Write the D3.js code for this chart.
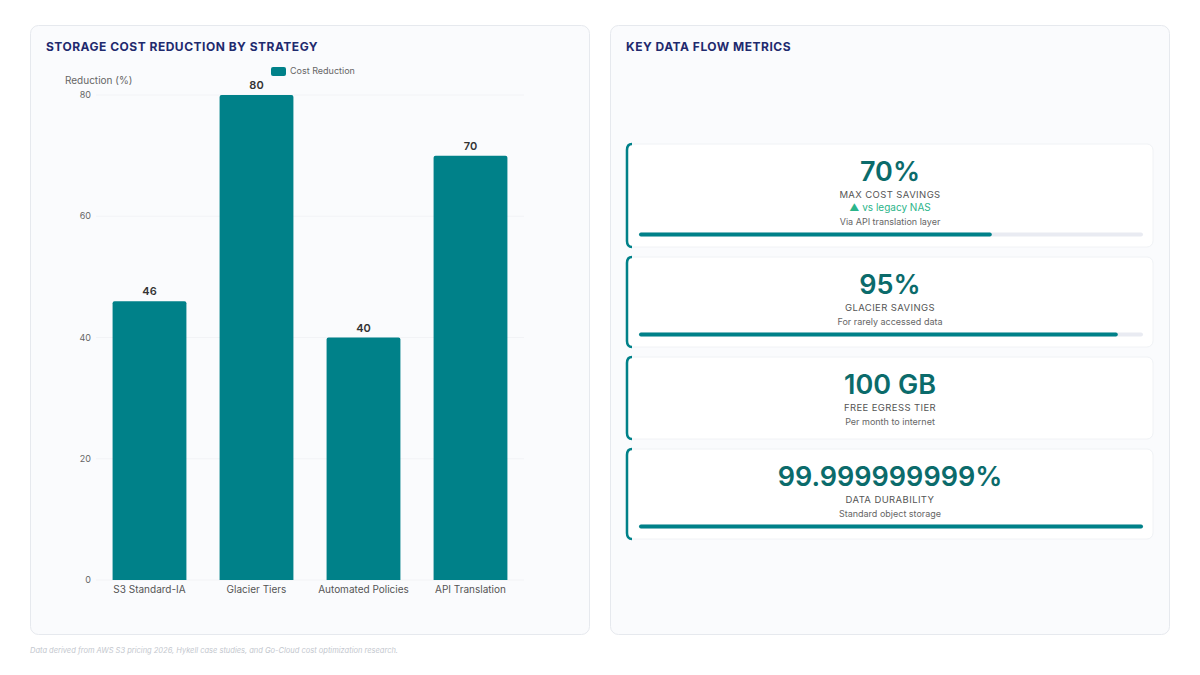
<!DOCTYPE html>
<html><head><meta charset="utf-8">
<script src="https://cdn.jsdelivr.net/npm/d3@7"></script>
<style>
body{margin:0;background:#fff;font-family:Inter,"Noto Sans",sans-serif;}
</style></head><body>
<svg id="c" width="1200" height="675"></svg>
<script>
const categories=["S3 Standard-IA","Glacier Tiers","Automated Policies","API Translation"];
const values=[46,80,40,70];
const yTicks=[0,20,40,60,80];
const metricValues=["70%","95%","100 GB","99.999999999%"];
const metricLabels=["MAX COST SAVINGS","GLACIER SAVINGS","FREE EGRESS TIER","DATA DURABILITY"];
const metricTrends=["▲ vs legacy NAS",null,null,null];
const metricSubs=["Via API translation layer","For rarely accessed data","Per month to internet","Standard object storage"];
const metricProgress=[70,95,null,100];

const svg=d3.select("#c");
const teal="#008189", navy="#1f2a6e";
[[30,590],[610,1170]].forEach(([a,b])=>{
 svg.append("rect").attr("x",a+0.5).attr("y",25.5).attr("width",b-a-1).attr("height",609).attr("rx",8)
  .attr("fill","#fafbfd").attr("stroke","#e6e9ee");
});
svg.append("text").attr("x",46).attr("y",51).text("STORAGE COST REDUCTION BY STRATEGY")
 .attr("font-size",12).attr("font-weight",700).attr("fill",navy).attr("letter-spacing",0.5);
svg.append("text").attr("x",626).attr("y",51).text("KEY DATA FLOW METRICS")
 .attr("font-size",12).attr("font-weight",700).attr("fill",navy).attr("letter-spacing",0.5);

const x=d3.scaleBand().domain(categories).range([96,524]).paddingInner(0.31).paddingOuter(0.155);
const y=d3.scaleLinear().domain([0,80]).range([580,95]);
const g=svg.append("g");
yTicks.forEach(t=>{
 g.append("line").attr("x1",96).attr("x2",524).attr("y1",y(t)).attr("y2",y(t)).attr("stroke","#f2f3f6");
 g.append("text").attr("x",91).attr("y",y(t)+3).attr("text-anchor","end").attr("font-size",9).attr("fill","#666").text(t);
});
g.selectAll(".bar").data(values).join("path").attr("fill",teal)
 .attr("d",(d,i)=>{const x0=x(categories[i]),w=x.bandwidth(),y0=y(d),h=y(0)-y(d),r=2;
  return `M${x0},${y0+h}V${y0+r}Q${x0},${y0} ${x0+r},${y0}H${x0+w-r}Q${x0+w},${y0} ${x0+w},${y0+r}V${y0+h}Z`;});
g.selectAll(".vl").data(values).join("text").attr("x",(d,i)=>x(categories[i])+x.bandwidth()/2)
 .attr("y",d=>y(d)-6).attr("text-anchor","middle").attr("font-size",11).attr("font-weight",600).attr("fill","#333").text(d=>d);
categories.forEach(c=>g.append("text").attr("x",x(c)+x.bandwidth()/2).attr("y",593).attr("text-anchor","middle")
 .attr("font-size",10).attr("fill","#555").text(c));
svg.append("text").attr("x",65).attr("y",84).attr("font-size",10).attr("fill","#666").text("Reduction (%)");
svg.append("rect").attr("x",271).attr("y",67).attr("width",15).attr("height",9).attr("rx",2).attr("fill",teal);
svg.append("text").attr("x",290).attr("y",74).attr("font-size",9).attr("fill","#666").text("Cost Reduction");

const cards=[[144,247],[257,347],[357,439],[449,539]];
const p=d3.scaleLinear().domain([0,100]).range([639,1143]);
cards.forEach(([t,b],i)=>{
 const cg=svg.append("g");
 cg.append("rect").attr("x",626).attr("y",t).attr("width",527).attr("height",b-t).attr("rx",6).attr("fill","#fff")
  .attr("stroke","#f0f2f5");
 cg.append("path").attr("d",`M632,${t}Q627,${t} 627,${t+6}V${b-6}Q627,${b} 632,${b}`).attr("fill","none").attr("stroke",teal).attr("stroke-width",2.5);
 const cx=890;
 cg.append("text").attr("x",cx).attr("y",t+37).attr("text-anchor","middle").attr("font-size",27).attr("font-weight",600).attr("fill","#0b6b6b").text(metricValues[i]);
 cg.append("text").attr("x",cx).attr("y",t+54).attr("text-anchor","middle").attr("font-size",9.5).attr("fill","#555").attr("letter-spacing",0.4).text(metricLabels[i]);
 let yy=t+54;
 if(metricTrends[i]){yy+=13;cg.append("text").attr("x",cx).attr("y",yy).attr("text-anchor","middle").attr("font-size",10).attr("fill","#2bb58a").text(metricTrends[i]);}
 yy+=13.5;
 cg.append("text").attr("x",cx).attr("y",yy).attr("text-anchor","middle").attr("font-size",9).attr("fill","#666").text(metricSubs[i]);
 if(metricProgress[i]!=null){
  const py=yy+8;
  cg.append("rect").attr("x",p(0)).attr("y",py).attr("width",p(100)-p(0)).attr("height",4).attr("rx",2).attr("fill","#e9ebf2");
  cg.append("rect").attr("x",p(0)).attr("y",py).attr("width",p(metricProgress[i])-p(0)).attr("height",4).attr("rx",2).attr("fill",teal);
 }
});
svg.append("text").attr("x",30).attr("y",653).attr("font-size",7.5).attr("font-style","italic").attr("fill","#c3c7ce")
 .text("Data derived from AWS S3 pricing 2026, Hykell case studies, and Go-Cloud cost optimization research.");
</script></body></html>
